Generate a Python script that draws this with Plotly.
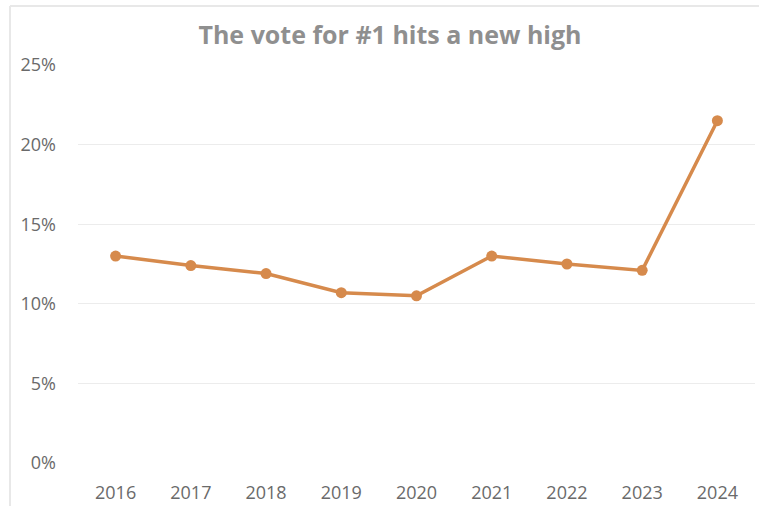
import plotly.graph_objects as go

years = ["2016", "2017", "2018", "2019", "2020", "2021", "2022", "2023", "2024"]
share = [13.0, 12.4, 11.9, 10.7, 10.5, 13.0, 12.5, 12.1, 21.5]
y_ticks = [0, 5, 10, 15, 20, 25]
y_tick_labels = ["0%", "5%", "10%", "15%", "20%", "25%"]

W, H = 759, 506
L, R, T, B = 78, 4, 65, 43
pw, ph = W - L - R, H - T - B

fig = go.Figure(go.Scatter(
    x=years, y=share, mode="lines+markers",
    line=dict(color="#D68A4C", width=3.5),
    marker=dict(color="#D68A4C", size=11),
    hoverinfo="skip",
))

font_family = "Open Sans, Noto Sans, sans-serif"

bx = (10 - L) / pw
by = (H - B - 6) / ph

fig.update_layout(
    width=W, height=H,
    margin=dict(l=L, r=R, t=T, b=B),
    paper_bgcolor="white", plot_bgcolor="white",
    showlegend=False,
    title=dict(text="<b>The vote for #1 hits a new high</b>", x=390 / W, xref="container",
               xanchor="center", y=1 - 35 / H, yanchor="middle",
               font=dict(family=font_family, size=25, color="#8f8f8f")),
    xaxis=dict(type="category", range=[-0.5, 8.5], showgrid=False, zeroline=False,
               showline=False, ticks="", ticklabelstandoff=17, automargin=False,
               tickfont=dict(family=font_family, size=18, color="#6a6a6a")),
    yaxis=dict(range=[0, 25], tickvals=y_ticks, ticktext=y_tick_labels,
               showgrid=True, gridcolor="#ececec", gridwidth=1, zeroline=False,
               showline=False, ticks="", ticklabelstandoff=21, automargin=False,
               tickfont=dict(family=font_family, size=18, color="#6a6a6a")),
    shapes=[
        dict(type="line", xref="paper", yref="paper",
             x0=bx, x1=1.02, y0=by, y1=by,
             line=dict(color="#e8e8e8", width=2)),
        dict(type="line", xref="paper", yref="paper",
             x0=bx, x1=bx, y0=-0.2, y1=by,
             line=dict(color="#e8e8e8", width=2)),
    ],
)

fig.write_html("out.html", config={"displayModeBar": False, "staticPlot": True},
               post_script="document.body.style.margin='0';document.body.style.overflow='hidden';")
